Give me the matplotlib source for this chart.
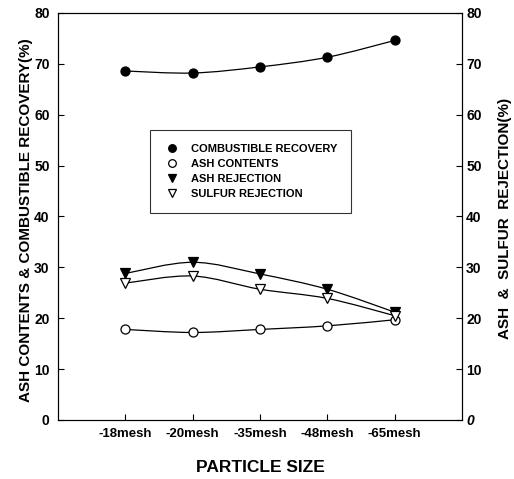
import numpy as np
import matplotlib.pyplot as plt
from matplotlib.path import Path
from matplotlib.patches import PathPatch
from matplotlib.lines import Line2D

plt.rcParams['font.family'] = ['Liberation Sans', 'DejaVu Sans']
plt.rcParams['font.weight'] = 'bold'

# data
sizes = ['-18mesh', '-20mesh', '-35mesh', '-48mesh', '-65mesh']
combustible_recovery = [68.6, 68.2, 69.4, 71.3, 74.6]
ash_contents = [17.8, 17.2, 17.8, 18.5, 19.7]
ash_rejection = [28.8, 31.0, 28.7, 25.7, 21.2]
sulfur_rejection = [26.9, 28.3, 25.7, 23.9, 20.5]
y_ticks = [0, 10, 20, 30, 40, 50, 60, 70, 80]


def smooth_path(x, y):
    # Catmull-Rom curve through the points, written as cubic Bezier segments
    pts = np.column_stack([x, y]).astype(float)
    verts = [pts[0]]
    codes = [Path.MOVETO]
    n = len(pts)
    for i in range(n - 1):
        p0 = pts[i - 1] if i > 0 else pts[i]
        p1 = pts[i]
        p2 = pts[i + 1]
        p3 = pts[i + 2] if i + 2 < n else pts[i + 1]
        c1 = p1 + (p2 - p0) / 6.0
        c2 = p2 - (p3 - p1) / 6.0
        verts += [c1, c2, p2]
        codes += [Path.CURVE4] * 3
    return Path(verts, codes)


fig = plt.figure(figsize=(5.14, 4.79), dpi=100)
ax = fig.add_axes([0.1128, 0.1232, 0.786, 0.8497])
x = np.arange(1, len(sizes) + 1)

series = [
    (combustible_recovery, dict(marker='o', mfc='black', mec='black', ms=6.5), 'COMBUSTIBLE RECOVERY'),
    (ash_contents, dict(marker='o', mfc='white', mec='black', ms=6.5), 'ASH CONTENTS'),
    (ash_rejection, dict(marker='v', mfc='black', mec='black', ms=7), 'ASH REJECTION'),
    (sulfur_rejection, dict(marker='v', mfc='white', mec='black', ms=7), 'SULFUR REJECTION'),
]

handles = []
for vals, style, label in series:
    ax.add_patch(PathPatch(smooth_path(x, vals), fill=False, lw=0.9,
                           ec='black', transform=ax.transData, zorder=2))
    ax.plot(x, vals, ls='none', mew=0.9, zorder=3, **style)
    leg_style = dict(style, ms=style['ms'] - 1)
    handles.append(Line2D([], [], ls='none', mew=0.9, **leg_style))

ax.set_xlim(0, 6)
ax.set_ylim(0, 80)
ax.set_xticks(x)
ax.set_xticklabels(sizes, fontsize=9.5, fontweight='bold')
ax.set_yticks(y_ticks)
ax.set_yticklabels([str(v) for v in y_ticks], fontsize=10, fontweight='bold')
ax.tick_params(direction='in', length=4, width=0.8, pad=6)
ax.set_xlabel('PARTICLE SIZE', fontsize=12.5, fontweight='bold', labelpad=14)
ax.set_ylabel('ASH CONTENTS & COMBUSTIBLE RECOVERY(%)', fontsize=11,
              fontweight='bold')
ax.yaxis.set_label_coords(-0.062, 0.49)

ax2 = ax.twinx()
ax2.set_ylim(0, 80)
ax2.set_yticks(y_ticks)
labels2 = ax2.set_yticklabels([str(v) for v in y_ticks], fontsize=10, fontweight='bold')
labels2[0].set_fontstyle('italic')
ax2.tick_params(direction='in', length=4, width=0.8, pad=3)
ax2.set_ylabel('ASH  &  SULFUR  REJECTION(%)', fontsize=11, fontweight='bold')
ax2.yaxis.set_label_coords(1.088, 0.495)

leg = ax.legend(handles, [s[2] for s in series], loc='upper left',
                bbox_to_anchor=(0.228, 0.7125), borderaxespad=0,
                frameon=True, fancybox=False, edgecolor='black',
                handletextpad=0.9, borderpad=1.25, labelspacing=0.45,
                handlelength=1.5, prop={'weight': 'bold', 'size': 8})
leg.get_frame().set_linewidth(0.8)

fig.savefig('out.png', dpi=100)
